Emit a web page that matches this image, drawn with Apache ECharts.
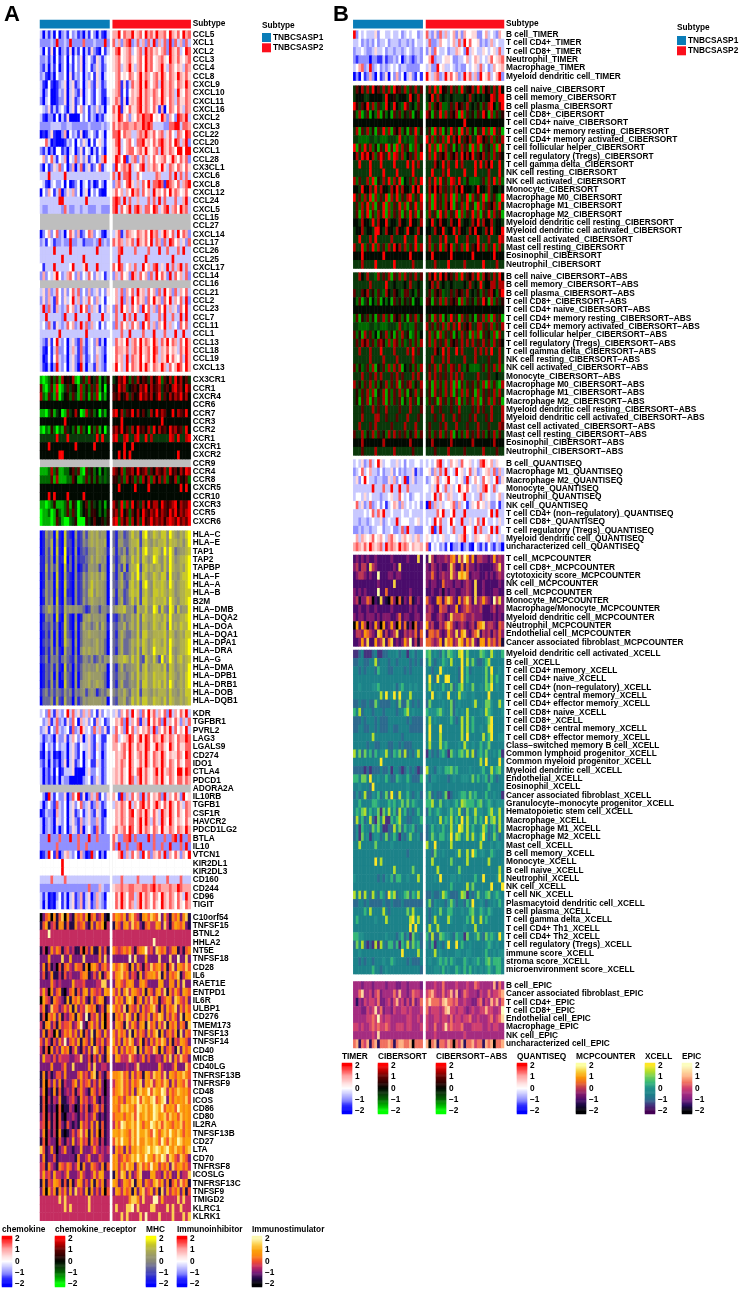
<!DOCTYPE html>
<html><head><meta charset="utf-8">
<style>html,body{margin:0;padding:0;background:#fff}#c{width:740px;height:1290px}</style>
<script src="https://cdn.jsdelivr.net/npm/echarts@6/dist/echarts.min.js"></script>
</head><body><div id="c"></div>
<script>
// Cell values are estimates. One character per sample: 0..8 = -2..+2 in steps of 0.5, "-" = missing.
// A row holds "group1 group2"; a single character stands for a whole flat group.
const chemokineGenes=['CCL5','XCL1','XCL2','CCL3','CCL4','CCL8','CXCL9','CXCL10','CXCL11','CXCL16','CXCL2','CXCL3','CCL22','CCL20','CXCL1','CCL28','CX3CL1','CXCL6','CXCL8','CXCL12','CCL24','CXCL5','CCL15','CCL27','CXCL14','CCL17','CCL26','CCL25','CXCL17','CCL14','CCL16','CCL21','CCL2','CCL23','CCL7','CCL11','CCL1','CCL13','CCL18','CCL19','CXCL13'];
const chemokineValues=[
'30313040231423120314203103 66847668567486758667486574867',
'22223282232822227222322282 73626782373627382637282736273',
'30415040231503140315210413 57845673467386756467286573487',
'22313041240414250342153134 56745675467486745675486575467',
'21303140240314250341253124 56735685367486745685376465376',
'23102042240513240324153034 46745476468576467586476586575',
'31041012350351240352153124 46715137568586467386576476586',
'30240013250352150342143114 56714146568576576486576385476',
'20340012250351240342143103 57615056578576476586476375576',
'43251313420351462413252304 75815475578576475160476475376',
'31022040315000042413202134 65874625476877845486264287683',
'22223333223322222232222323 75767766766878733332277883776',
'01025100260423150134214304 77847663367686574673574376487',
'44730100013240425304145314 57834674377856475786574873682',
'21302044120340251430314204 56834677467585467386576488488',
'46247314360437252513413684 58748136725736474567458647572',
'20412537240260371351247134 28467683547836576485376476475',
'33383333383333333333333333 73837783374333337633373837373',
'43103422404012403413014204 26734785363748377871876473678',
'04264137025362403504241004 57463648673746385647485764574',
'33333338833333333833333333 78738373363337373837333733683',
'32233333273223323322233222 78374683786377487357836748673',
'-','-',
'02462472304752612476243103 35713765476574867358647384762',
'23143122322822331222328232 75763657386574837627387463527',
'33333833333833333333383333 33783333733337333833733373833',
'33333333833333338333333333 33833333333383333333338333333',
'41333833333483335833383333 74873463733846378353837368373',
'26243584236742624374253413 26374528637462738475283746372',
'-',
'35262374252473724262352425 46372647385637462738462736473',
'25263174253483625374263414 46382638475627485627483647382',
'38273163237462384726351425 27384637462847362748363527483',
'33833333283338333383333833 37338373833387333738337338383',
'34273153237462383726341424 27374637462847362648363427473',
'33333338333333333833333333 33373383333733383337333833833',
'32151483240352173134261304 37564836748576486375847637486',
'31041372240363172134253214 47665736758567487365746537586',
'30141473230352173124263204 47563837658467486365847547386',
'31030283240352083033163214 58463847658586476586374687486'];

const receptorGenes=['CX3CR1','CCR1','CXCR4','CCR6','CCR7','CCR3','CCR2','XCR1','CXCR1','CXCR2','CCR9','CCR4','CCR8','CXCR5','CCR10','CXCR3','CCR5','CXCR6'];
const receptorValues=[
'10125261745471036274361425 34768526374653746826473857463',
'61026180136354172526371404 54867345647684756735647867486',
'72163170245263172516270314 65745736458675746836475768574',
'4 4',
'11025134016347401735240314 78473658474643748576448476584',
'44444444484444444444444444 44484444444444444484444444444',
'10215202163425162405261403 67584637485647384756486756384',
'33333383338333333333383833 78337833783383733333387383378',
'44484444444448444444844444 44448448444444444444444444444',
'44444448844444444444444444 44848484444444444444444484444',
'-',
'11127261122463610635241423 76472667485673647657385647587',
'22226171112264112625252323 55362746262747274737254725462',
'44444444444444444444444444 44844444844448444444444448484',
'44484844448444448444444444 44444444444444444444444444444',
'11012511126153024625342414 75382738463748577486567847668',
'01120152126263024525542425 67384626474865768576586857678',
'01110163100235000534644535 78275727473856867675787686768'];

const mhcGenes=['HLA\u2212C','HLA\u2212E','TAP1','TAP2','TAPBP','HLA\u2212F','HLA\u2212A','HLA\u2212B','B2M','HLA\u2212DMB','HLA\u2212DQA2','HLA\u2212DOA','HLA\u2212DQA1','HLA\u2212DPA1','HLA\u2212DRA','HLA\u2212G','HLA\u2212DMA','HLA\u2212DPB1','HLA\u2212DRB1','HLA\u2212DOB','HLA\u2212DQB1'];
const mhcValues=[
'01534071072105125256564550 31452357562784576577486546578',
'01436061072204124356565560 31553356672675465667476656468',
'01426071081205023245465541 41435256473785577648586345567',
'11425061180304122346465450 31356347573764587547486456678',
'11625261071304013255452540 41426156682675656647486556578',
'01524071062104125356564650 31462347583764576577385546778',
'01534071072104125357565540 32463267572785476676486456678',
'02534061071104124367465540 41552367672675477676576456677',
'01535071062204125356554540 31462357472775576667486546678',
'13465262164545443125442443 45667445275574487374387374558',
'01434071073104015564554540 21353446473765576657485556678',
'02324140173105036453463641 32446356473664576567385657668',
'01315050173204035565554540 31464335473775566667476456577',
'02325050174305035554564530 32463346574764576657486556678',
'01315151063304046565564530 31463346473764586667485456678',
'12414341353215124435235354 44667647573275474284586467567',
'01324151072304135454464540 31463445573674566657376456568',
'01325050163205035565555430 32454346474675576667476546578',
'01315150073205045564565530 31463345473775576757486456578',
'13424243253414345245413435 43546436572665465666475546577',
'03335162163305135455555450 32556347574775576657476556567'];

const inhibitorGenes=['KDR','TGFBR1','PVRL2','LAG3','LGALS9','CD274','IDO1','CTLA4','PDCD1','ADORA2A','IL10RB','TGFB1','CSF1R','HAVCR2','PDCD1LG2','BTLA','IL10','VTCN1','KIR2DL1','KIR2DL3','CD160','CD244','CD96','TIGIT'];
const inhibitorValues=[
'34273163248373526362415243 35264738462748573647283647583',
'42361372315274063524163412 46572836471638475728364752637',
'23514273234172385342736251 37462847364657382647583746483',
'31232052251364250352143114 67345687468587476586576476687',
'20423142330352143352153124 66467586476587458675486475577',
'10313010230352140352143024 46567486467586476586465576487',
'21303120250351240341153124 46576486457586476586476475477',
'30213040133350000352243124 56575486478575468585676488587',
'30212030322000002341253124 56575487368575467585476477576',
'-',
'42083142250274815026371425 64182637462837465728364752845',
'30242173240352472351263124 36576483647857468647586475376',
'01322063240351241352153104 46576478467586475386586475476',
'30232053240352162352263124 46576477468586375386486465475',
'30232030240253160342173124 57567487468576476485576476586',
'22282227222822722282272222 75227782722228272227227828227',
'22222272222222722722222222 72822722278222272272282227282',
'01284170256324062018240204 44682637462847265738264752648',
'44444444844444444444444444 4',
'44444444844444444444444444 4',
'33337333373333333333333333 33373333373333373333733337333',
'22222222222222222272226322 56676677666776786766676687666',
'31301024130351261350263204 47586477368576476486576475386',
'30301034130351261351263214 47586476368576475486576475476'];

const stimulatorGenes=['C10orf54','TNFSF15','BTNL2','HHLA2','NT5E','TNFSF18','CD28','IL6','RAET1E','ENTPD1','IL6R','ULBP1','CD276','TMEM173','TNFSF13','TNFSF14','CD40','MICB','CD40LG','TNFRSF13B','TNFRSF9','CD48','ICOS','CD86','CD80','IL2RA','TNFSF13B','CD27','LTA','CD70','TNFRSF8','ICOSLG','TNFRSF13C','TNFSF9','TMIGD2','KLRC1','KLRK1'];
const stimulatorValues=[
'02450514705215453604523510 46546257431564754826315462571',
'14613415514115345215254603 15425637452145336527314654621',
'33383333333333333333333333 3',
'3 33333333333333383333333333333',
'13025354134231140425115241 54345463145683427545235513145',
'22262222722622227222225272 22222282722262222722272282272',
'25141204145325441505642453 64575416253143745635147265474',
'24125113142322245512426135 35674524316245564715254571356',
'22225323222263334222233772 25643565225642222662255262722',
'36305245102451425625434265 53625736543615425637153642654',
'06431543216154635215246512 36452675146253745134652764352',
'35127442353616243754512416 64537154362534673152645725364',
'14054625132451642814362504 15463752614536254762536427165',
'31562415344523582146352604 26541736425617452637154625417',
'25143061354635261427154263 53645271635426357162453617254',
'42531425382453615426143524 63526475236142536475251436542',
'31405242645136214252752416 46253645716254375162453172645',
'26332424333223372241425215 26533374323524223326372537442',
'22225222352272222252722332 22222322372222222632223622274',
'15131244252222463425714214 55674526354165375637265465754',
'15042525132246253452425202 35674536457265735647526365473',
'25021514123241353215424202 45674536267568476587364576564',
'14031325112342153423521312 56453657684765784578264656574',
'14021204011320142412452412 55476756487675687684656486565',
'24031304102232132423521212 45564657485675687567475647565',
'34041304214212163425261412 36487567586465875747654657465',
'25031305101242473615250412 66576547586675486467586576465',
'14032204213262363415341312 47586647585576576486475687566',
'74125202352212262223532323 26452636575678678767865756467',
'25122412222221522352224322 56346457686586647587376437542',
'34153215435423615225432514 56364756257464856354627456453',
'36342633236222363223636622 16376262357222663326352262337',
'15143654141513652426153513 65236547156254367462514637451',
'25063515352627342615242504 26536451625734625172635462514',
'33333337373333333373333333 33333357753733388363333373733',
'33333333373733333373333333 37333778373333773333737337333',
'3 33373733337383333733337333737'];

const timerGenes=['B cell_TIMER','T cell CD4+_TIMER','T cell CD8+_TIMER','Neutrophil_TIMER','Macrophage_TIMER','Myeloid dendritic cell_TIMER'];
const timerValues=[
'82434333524433433423434423 73252736346252644552246343264',
'33423232423342333233232433 37223644346373847445232363433',
'23343223533423323323432332 25274334233654283543354345373',
'21222202211312232402321232 46823345542233463465343574567',
'34672382342323434233222224 35228453343232243453734236456',
'02041262041250426240352141 85367238574623857362845734682'];

const cibersortGenes=['B cell naive','B cell memory','B cell plasma','T cell CD8+','T cell CD4+ naive','T cell CD4+ memory resting','T cell CD4+ memory activated','T cell follicular helper','T cell regulatory (Tregs)','T cell gamma delta','NK cell resting','NK cell activated','Monocyte','Macrophage M0','Macrophage M1','Macrophage M2','Myeloid dendritic cell resting','Myeloid dendritic cell activated','Mast cell activated','Mast cell resting','Eosinophil','Neutrophil'].map(s=>s+'_CIBERSORT');
const cibersortValues=[
'36473738463737285637263736 37382845373628354738274637384',
'34443344444384453444384373 34837343343333437343434487388',
'85364837263284384328634263 27264722363746373435263784268',
'52713614271524163625361452 75163827364718263526385172635',
'4 44444444444444844444444444444',
'37163725163827164725163825 36183715283618372516382718361',
'33222233232223332832322733 83726372837483647338746372637',
'81628372516381618273612725 38271827361527361827163527183',
'47386847268638287372463728 37283647264738474836473627364',
'33833383338333383333838373 33374383733837333383837483383',
'33333383333833338333338333 33833373833333833383333733383',
'72633728153738273814362738 37382836287383252222362738272',
'44384473837443748374438483 37484736373748444348443734434',
'83627381726381738263782638 27183627381726381736281736218',
'36273827163817263827163827 37183627481637283618273647283',
'36173816273817263716283716 27361837263817263827163827361',
'44374438374483443744384437 34834744374483443748374473443',
'34473443884374437443844374 44374483448374437484437483448',
'33833373833333733338333833 37333738333833373338333733387',
'73382638273627384737263827 37263827482637283648372638273',
'44484444444844444444484444 44844444484444444844444448444',
'33373333833333383333337333 33373333833333733333383333733'];

const absGenes=['B cell naive','B cell memory','B cell plasma','T cell CD8+','T cell CD4+ naive','T cell CD4+ memory resting','T cell CD4+ memory activated','T cell follicular helper','T cell regulatory (Tregs)','T cell gamma delta','NK cell resting','NK cell activated','Monocyte','Macrophage M0','Macrophage M1','Macrophage M2','Myeloid dendritic cell resting','Myeloid dendritic cell activated','Mast cell activated','Mast cell resting','Eosinophil','Neutrophil'].map(s=>s+'_CIBERSORT\u2212ABS');
const absValues=[
'33743733273637163727363736 37483847463728364738274637384',
'33333373333383343334373343 34737343343333437343834477377',
'63364735263274364326634253 36264623363646373435263674268',
'42613514261424163525351442 65163727364617263526385172635',
'4 44444444444444444444444444444',
'26153625163726164625163725 36173715283617362516372717361',
'33222233232223332732322633 73626372737383647337736372637',
'62517362415372516273512624 37261726361527361727163527173',
'36375736267527276262362627 37273637264637373736373627364',
'33733373338333373333738363 33374383733837333373737383373',
'33333373333733337333337333 33733373733333733373333633373',
'62523627153627273714352627 36372736276373252222362637272',
'33373363737333637363337373 37373636373737333337333633433',
'73526372625372637163672537 26172627371716263626271726217',
'35263727153716263726153726 36173627371627273617263637273',
'35163716263716263615273615 26361736263716263727163727361',
'33363337363373333633373336 33733633363373333637363373337',
'33373333773363336333733363 33363373337363336373336373337',
'33733363733333633337333733 36333637333733363337333633376',
'63372537263527373636253726 36263726371526273637362537263',
'44474444444744444444474444 44744444474444444744444447444',
'33363333733333373333336333 33363333733333633333373333633'];

const quantiseqGenes=['B cell','Macrophage M1','Macrophage M2','Monocyte','Neutrophil','NK cell','T cell CD4+ (non\u2212regulatory)','T cell CD8+','T cell regulatory (Tregs)','Myeloid dendritic cell','uncharacterized cell'].map(s=>s+'_QUANTISEQ');
const quantiseqValues=[
'34352373485344335342433443 34347834364537445343785463544',
'23473463324233524232335132 45263738343845347352345637263',
'35248433233225362438135233 23457345844345283464374534825',
'33333338333733833833733333 43538437353485474335378437344',
'34435343332334533743423443 33483743653345833433735433463',
'47352372342413465263434342 08263534457263413547453522413',
'33334347375833433343343333 33337483348333833333333483833',
'33233234335234338344433453 34384733484338335347384334353',
'22323323344233422372833222 43813833437333844383733483834',
'46365457456436754356453563 54343453344356834365445634353',
'67657586567386765867646556 71434231402230231042131421320'];

const mcpGenes=['T cell','T cell CD8+','cytotoxicity score','NK cell','B cell','Monocyte','Macrophage/Monocyte','Myeloid dendritic cell','Neutrophil','Endothelial cell','Cancer associated fibroblast'].map(s=>s+'_MCPCOUNTER');
const mcpValues=[
'23232322322222322222322272 28423334356374863624433236343',
'34244274322222232722222222 32432322374225253323222223473',
'23443232282223323322222222 33532343374376752333223232343',
'22222222232222272222222222 32332253332332343272232222232',
'32323222282252222222232222 22322313233223343272232223322',
'34133540217210530513251232 53226525753263574273464328473',
'22322322322222322222232322 34322544233623454333422234233',
'32332333232333223523322332 44223432374445433433322223232',
'06264032630623630625130523 63422435753234323425673443254',
'24436543276242347224343525 25545323643736732457243424353',
'22363722634725723236482414 55434627563476364732663645351'];

const xcellGenes=['Myeloid dendritic cell activated','B cell','T cell CD4+ memory','T cell CD4+ naive','T cell CD4+ (non\u2212regulatory)','T cell CD4+ central memory','T cell CD4+ effector memory','T cell CD8+ naive','T cell CD8+','T cell CD8+ central memory','T cell CD8+ effector memory','Class\u2212switched memory B cell','Common lymphoid progenitor','Common myeloid progenitor','Myeloid dendritic cell','Endothelial','Eosinophil','Cancer associated fibroblast','Granulocyte\u2212monocyte progenitor','Hematopoietic stem cell','Macrophage','Macrophage M1','Macrophage M2','Mast cell','B cell memory','Monocyte','B cell naive','Neutrophil','NK cell','T cell NK','Plasmacytoid dendritic cell','B cell plasma','T cell gamma delta','T cell CD4+ Th1','T cell CD4+ Th2','T cell regulatory (Tregs)','immune score','stroma score','microenvironment score'].map(s=>s+'_XCELL');
const xcellValues=[
'11231112311223334233134233 56343253654378363333654374335',
'22332233723332332333323232 36323354373338373632235733333',
'33232333253332233332323333 33233843333328352333336383343',
'33333333333333333333333333 38328338833328353333336373533',
'33433334453333342453343433 37343353362357343633436583433',
'33333333337383483833373333 33834433833374433433333833333',
'22322322632222332622632323 26333343362343333473336643374',
'53723332333233332335734333 54445643362434373333437543334',
'22232333232223333333232222 37343333353237373533334683333',
'22332233232223322333322222 38333833333337373533433783333',
'33333337333333333323333333 38333733333337383333373583344',
'33333233223332233232223333 37333745333343743433534633333',
'73626352534473254627232473 14232453164356473724536334351',
'33333333338333333333333333 33333333333333333333738333383',
'22221212223224133212423212 73324435564533334333453374563',
'55366383343353225433532225 42443333234334443635345253233',
'33433328333333333333433333 34333333333333333333333533333',
'24237224352362832733532342 46232236123345536453335334331',
'33533335543335453463635433 55733634434537655535634543444',
'35467353461637352735232353 25345433464473263474433574473',
'27352372163711535733223335 34343735473538374363538367373',
'24153326463112273625345233 23534353374487373533475235273',
'24163413442362353132463342 23643553483763473743584236423',
'33733333633333433333333333 73383333373333333333733343443',
'33333333333333333333233333 33263343333473373853443354333',
'33333333837333333333333333 33733333363333373333333733333',
'33333333333333373333336333 33337333333363333333333333373',
'43333333323243525533433373 33343833344343333353383333483',
'33333333333333333333333333 33333333353333373633333383338',
'73727327325428572335625473 22322375322237613236335634543',
'22332322222322322232222222 36243332464233253833432334353',
'33335373333732333333637333 32343633553334335633543543333',
'35333333433373333333378473 32373333743333353733735333333',
'33333333333333333333383833 37337333333333433373333333333',
'55443333333343332452416332 52722654432544163346326454384',
'26372121717325525153726452 42513324833835334333334543433',
'33433333333333333383333373 33373433333443344333335334344',
'33232332333433543333232223 34334545354333543445335645553',
'33333335332343333333333332 33344353433543535343434543553'];

const epicGenes=['B cell','Cancer associated fibroblast','T cell CD4+','T cell CD8+','Endothelial cell','Macrophage','NK cell','uncharacterized cell'].map(s=>s+'_EPIC');
const epicValues=[
'33323332333323332233233332 33343353333433343354333336253',
'33573342452333353633235443 45643353463623543332433534456',
'31324344352234246342425235 57555467554533433224524364635',
'33322434735233243344343334 53444346744344323433446443348',
'33333445484344333333443343 43344344353443445334333453457',
'44343345454454334443443334 43353347454445333444433434433',
'33333334373333333333333333 33343333333333433333333333333',
'56154615615556515665560555 60561554650546155645516560556'];

const palettes={
  bwr:['#0000ff','#3030ff','#9090ff','#c8c8ff','#ffffff','#ffd8d8','#ffa8a8','#ff6060','#ff0000'],
  gkr:['#00ff00','#00b000','#006800','#0a380a','#020a02','#300000','#600000','#b00000','#ff0000'],
  byg:['#0000ff','#2424d8','#4646b8','#6a6a98','#8a8a7a','#9a9a68','#b0b04c','#c8c828','#ffff00'],
  stim:['#000004','#250c4a','#7a1a78','#c42c60','#f2502f','#fb8a0f','#fba40c','#fdd050','#fdf8b0'],
  mcp:['#000004','#1b0c41','#4a0c6b','#841a6c','#bb3754','#ed6925','#fb9b06','#f7d13d','#fcffa4'],
  vir:['#440154','#46337e','#2c6a8e','#1c8289','#21908c','#35b779','#6ece58','#b5de2b','#fde725'],
  epic:['#000004','#2a1060','#7a1f80','#a52c80','#cf4070','#f0705f','#fdb083','#fdd9a0','#fcfdbf']
};
const legendTicks=['2.0','1.0','0.0','-1.0','-2.0'];
const legendSteps=['2.2','2.1','2.0','1.9','1.8','1.7','1.6','1.5','1.4','1.3','1.2','1.1','1.0','0.9','0.8','0.7','0.6','0.5','0.4','0.3','0.2','0.1','0.0','-0.1','-0.2','-0.3','-0.4','-0.5','-0.6','-0.7','-0.8','-0.9','-1.0','-1.1','-1.2','-1.3','-1.4','-1.5','-1.6','-1.7','-1.8','-1.9','-2.0','-2.1','-2.2'];

const N1=26,N2=29,PITCH=8.31;
const FONT='"Liberation Sans",Arial,sans-serif';
const panelA={x1:40,w1:69.5,x2:112.7,w2:78};
const panelB={x1:353.3,w1:69.4,x2:426,w2:78};
const blocks=[
 {p:panelA,top:30.7,genes:chemokineGenes,vals:chemokineValues,pal:'bwr'},
 {p:panelA,top:376,genes:receptorGenes,vals:receptorValues,pal:'gkr'},
 {p:panelA,top:530.7,genes:mhcGenes,vals:mhcValues,pal:'byg'},
 {p:panelA,top:709.6,genes:inhibitorGenes,vals:inhibitorValues,pal:'bwr'},
 {p:panelA,top:913.3,genes:stimulatorGenes,vals:stimulatorValues,pal:'stim'},
 {p:panelB,top:30.7,genes:timerGenes,vals:timerValues,pal:'bwr'},
 {p:panelB,top:85.7,genes:cibersortGenes,vals:cibersortValues,pal:'gkr'},
 {p:panelB,top:272.6,genes:absGenes,vals:absValues,pal:'gkr'},
 {p:panelB,top:459.6,genes:quantiseqGenes,vals:quantiseqValues,pal:'bwr'},
 {p:panelB,top:555,genes:mcpGenes,vals:mcpValues,pal:'mcp'},
 {p:panelB,top:650,genes:xcellGenes,vals:xcellValues,pal:'vir'},
 {p:panelB,top:981.5,genes:epicGenes,vals:epicValues,pal:'epic'}
];
const colorbars=[
 {t:'chemokine',x:2,y:1236,pal:'bwr'},{t:'chemokine_receptor',x:55,y:1236,pal:'gkr'},{t:'MHC',x:146,y:1236,pal:'byg'},{t:'Immunoinhibitor',x:177,y:1236,pal:'bwr'},{t:'Immunostimulator',x:252,y:1236,pal:'stim'},
 {t:'TIMER',x:342,y:1063,pal:'bwr'},{t:'CIBERSORT',x:378,y:1063,pal:'gkr'},{t:'CIBERSORT\u2212ABS',x:436,y:1063,pal:'gkr'},{t:'QUANTISEQ',x:517,y:1063,pal:'bwr'},{t:'MCPCOUNTER',x:576,y:1063,pal:'mcp'},{t:'XCELL',x:645,y:1063,pal:'vir'},{t:'EPIC',x:682,y:1063,pal:'epic'}
];

const grid=[],xAxis=[],yAxis=[],series=[],vmIdx={},graphic=[];
const idx=n=>Array.from({length:n},(_,i)=>String(i));
const labelStyle={color:'#000',fontFamily:FONT,fontWeight:'bold',fontSize:8.3};
function cellVal(ch){return ch==='-'?NaN:(parseInt(ch,10)-4)/2;}
function rowCells(s,n){const a=[];for(let i=0;i<n;i++){const c=s.length===1?s:(s[i]!==undefined?s[i]:s[s.length-1]);a.push(cellVal(c));}return a;}
function addPanelGrid(x,w,top,h,n,genes,showLabels,hasGrey){
  const g=grid.length;
  grid.push({left:x,top:top,width:w,height:h,containLabel:false,show:hasGrey,backgroundColor:'#bebebe',borderWidth:0});
  xAxis.push({type:'category',gridIndex:g,data:idx(n),show:false});
  yAxis.push({type:'category',gridIndex:g,data:genes,inverse:true,show:showLabels,position:'right',axisLine:{show:false},axisTick:{show:false},splitLine:{show:false},
    axisLabel:Object.assign({interval:0,margin:2,align:'left'},labelStyle)});
  return g;
}
function addHeat(g,data,pal){
  const i=series.length;
  series.push({type:'heatmap',xAxisIndex:g,yAxisIndex:g,data:data,progressive:0,animation:false,itemStyle:{borderWidth:0},emphasis:{disabled:true}});
  (vmIdx[pal]=vmIdx[pal]||[]).push(i);
}
blocks.forEach(b=>{
  const h=b.genes.length*PITCH;
  const rows=b.vals.map(r=>{const parts=r.split(' ');return [parts[0],parts.length>1?parts[1]:parts[0]];});
  [[0,b.p.x1,b.p.w1,N1],[1,b.p.x2,b.p.w2,N2]].forEach(([k,x,w,n])=>{
    const data=[];let grey=false;
    rows.forEach((r,ri)=>{rowCells(r[k],n).forEach((v,ci)=>{if(isNaN(v))grey=true;else data.push([ci,ri,v]);});});
    const g=addPanelGrid(x,w,b.top,h,n,b.genes,k===1,grey);
    addHeat(g,data,b.pal);
  });
});
// subtype annotation bars
[[panelA],[panelB]].forEach(([p])=>{
  [['TNBCSASP1',p.x1,p.w1,'#0a7db8',false],['TNBCSASP2',p.x2,p.w2,'#fb0f1c',true]].forEach(([nm,x,w,col,lab])=>{
    const g=addPanelGrid(x,w,20,8.3,1,['Subtype'],lab,false);
    series.push({type:'heatmap',name:nm,xAxisIndex:g,yAxisIndex:g,data:[[0,0,1]],progressive:0,animation:false,itemStyle:{color:col,borderWidth:0},emphasis:{disabled:true}});
  });
});
// colour keys
colorbars.forEach(c=>{
  const g=grid.length,h=51;
  grid.push({left:c.x,top:c.y,width:10,height:h,show:false});
  xAxis.push({type:'category',gridIndex:g,data:['0'],show:false});
  const isTick=(i,v)=>legendTicks.includes(v);
  const fmt=v=>String(Math.round(parseFloat(v))).replace('-','\u2212');
  const tick={show:true,inside:true,length:2.2,alignWithLabel:true,interval:isTick,lineStyle:{color:'#fff',width:0.8}};
  yAxis.push({type:'category',gridIndex:g,data:legendSteps,inverse:true,position:'right',axisLine:{show:false},axisTick:tick,
    axisLabel:Object.assign({},labelStyle,{interval:isTick,formatter:fmt,margin:3,fontSize:8.3,fontWeight:'bold',align:'left'})});
  yAxis.push({type:'category',gridIndex:g,data:legendSteps,inverse:true,position:'left',axisLine:{show:false},axisTick:tick,axisLabel:{show:false}});
  const yi=yAxis.length-2;
  const i=series.length;
  series.push({type:'heatmap',xAxisIndex:g,yAxisIndex:yi,data:legendSteps.map((s,r)=>[0,r,Math.max(-2,Math.min(2,parseFloat(s)))]),progressive:0,animation:false,itemStyle:{borderWidth:0},emphasis:{disabled:true}});
  (vmIdx[c.pal]=vmIdx[c.pal]||[]).push(i);
  graphic.push({type:'text',silent:true,style:{text:c.t,x:c.x,y:c.y-6.5,fill:'#000',font:'bold 8.3px '+FONT,verticalAlign:'middle'}});
});
[['A',4,15],['B',333,15]].forEach(([t,x,y])=>graphic.push({type:'text',silent:true,style:{text:t,x:x,y:y,fill:'#000',font:'bold 22px '+FONT,verticalAlign:'middle'}}));
[[262,26],[677,28]].forEach(([x,y])=>graphic.push({type:'text',silent:true,style:{text:'Subtype',x:x,y:y,fill:'#000',font:'bold 8.3px '+FONT,verticalAlign:'middle'}}));

const legendBase={orient:'vertical',selectedMode:false,itemWidth:9,itemHeight:9,itemGap:1.3,icon:'rect',padding:0,textStyle:Object.assign({},labelStyle,{padding:[0,0,0,-3]}),data:['TNBCSASP1','TNBCSASP2']};
const visualMap=Object.keys(vmIdx).map(k=>({type:'continuous',show:false,min:-2,max:2,dimension:2,seriesIndex:vmIdx[k],inRange:{color:palettes[k]}}));

const chart=echarts.init(document.getElementById('c'),null,{renderer:'canvas',width:740,height:1290});
chart.setOption({animation:false,backgroundColor:'#fff',tooltip:{show:false},grid,xAxis,yAxis,series,visualMap,
  legend:[Object.assign({left:262,top:33},legendBase),Object.assign({left:677,top:36},legendBase)],
  graphic:{elements:graphic}});
</script></body></html>
